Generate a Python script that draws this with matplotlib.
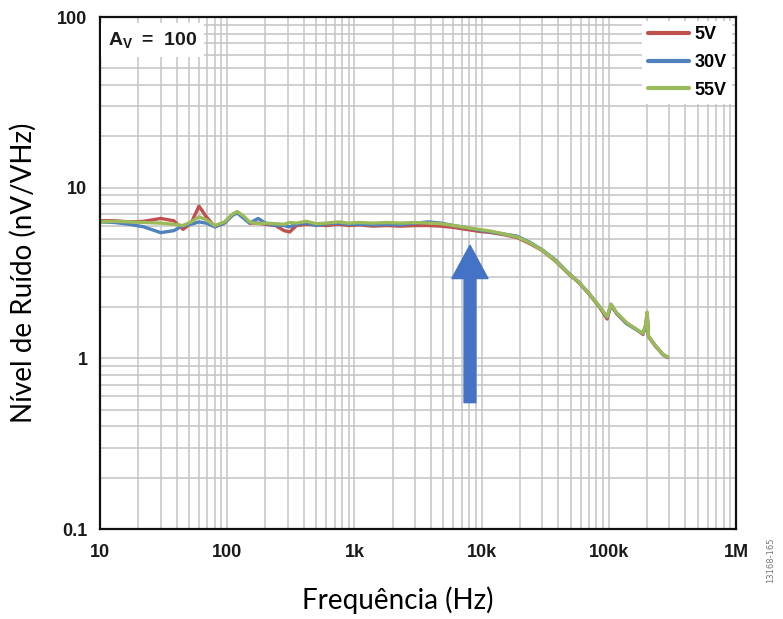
import matplotlib
matplotlib.use("Agg")
import matplotlib.pyplot as plt
from matplotlib.ticker import FixedLocator, LogLocator, NullFormatter

# Frequency points (Hz) shared by all three supply-voltage traces
freq = [10, 13, 17, 22, 30, 38, 45, 52, 60, 68, 80, 95, 110, 120, 135, 150, 175,
        200, 240, 280, 310, 350, 420, 500, 600, 750, 900, 1100, 1400, 1800, 2300,
        3000, 3800, 4800, 6000, 7500, 9500, 12000, 15000, 19000, 24000, 30000,
        38000, 47000, 58000, 70000, 85000, 97000, 104000, 115000, 138000, 160000,
        186000, 196000, 200000, 205000, 230000, 267000, 290000]

# Voltage noise density (nV/rtHz)
noise_5v = [6.4, 6.4, 6.3, 6.35, 6.6, 6.4, 5.7, 6.2, 7.8, 6.8, 5.9, 6.2, 6.9, 7.2,
            6.7, 6.2, 6.2, 6.1, 6.0, 5.6, 5.5, 6.0, 6.1, 6.05, 6.0, 6.1, 6.0, 6.05,
            5.95, 6.0, 5.95, 6.0, 6.0, 5.95, 5.85, 5.7, 5.55, 5.45, 5.3, 5.1, 4.7,
            4.28, 3.72, 3.18, 2.78, 2.38, 1.98, 1.7, 2.05, 1.83, 1.6, 1.5, 1.38,
            1.58, 1.84, 1.34, 1.19, 1.05, 1.01]
noise_30v = [6.3, 6.25, 6.1, 5.9, 5.45, 5.6, 6.0, 6.1, 6.3, 6.2, 5.9, 6.2, 6.9, 7.1,
             6.6, 6.2, 6.6, 6.2, 6.0, 6.0, 5.9, 6.1, 6.2, 6.0, 6.15, 6.2, 6.1, 6.1,
             6.05, 6.1, 6.05, 6.2, 6.3, 6.2, 6.0, 5.85, 5.65, 5.5, 5.35, 5.2, 4.78,
             4.32, 3.78, 3.22, 2.8, 2.4, 2.0, 1.74, 2.07, 1.84, 1.6, 1.49, 1.4,
             1.58, 1.85, 1.35, 1.2, 1.05, 1.02]
noise_55v = [6.3, 6.35, 6.3, 6.25, 6.2, 6.1, 6.0, 6.3, 6.75, 6.5, 6.0, 6.3, 7.0, 7.25,
             6.8, 6.3, 6.15, 6.2, 6.15, 6.1, 6.25, 6.2, 6.35, 6.15, 6.2, 6.3, 6.2,
             6.25, 6.2, 6.25, 6.2, 6.25, 6.2, 6.15, 6.0, 5.85, 5.7, 5.55, 5.35, 5.15,
             4.75, 4.3, 3.75, 3.2, 2.8, 2.4, 2.0, 1.75, 2.08, 1.85, 1.62, 1.5, 1.4,
             1.6, 1.87, 1.35, 1.2, 1.05, 1.02]

series_labels = ["5V", "30V", "55V"]
x_ticks = [10, 100, 1e3, 1e4, 1e5, 1e6]
x_tick_labels = ["10", "100", "1k", "10k", "100k", "1M"]
y_ticks = [0.1, 1, 10, 100]
y_tick_labels = ["0.1", "1", "10", "100"]

colors = ["#C0504D", "#4F81BD", "#9BBB59"]

plt.rcParams["mathtext.fontset"] = "custom"
plt.rcParams["mathtext.bf"] = "Liberation Sans:bold"
plt.rcParams["mathtext.rm"] = "Liberation Sans:bold"

fig = plt.figure(figsize=(7.83, 6.19), dpi=100)
ax = fig.add_axes([100 / 783, 1 - 529 / 619, 636 / 783, 512 / 619])

for vals, c, lab in zip([noise_5v, noise_30v, noise_55v], colors, series_labels):
    ax.plot(freq, vals, color=c, lw=2.4, label=lab, solid_capstyle="round",
            solid_joinstyle="round")

ax.set_xscale("log")
ax.set_yscale("log")
ax.set_xlim(10, 1e6)
ax.set_ylim(0.1, 100)

ax.xaxis.set_major_locator(FixedLocator(x_ticks))
ax.set_xticklabels(x_tick_labels)
ax.xaxis.set_minor_locator(LogLocator(base=10, subs=range(2, 10)))
ax.xaxis.set_minor_formatter(NullFormatter())
ax.yaxis.set_major_locator(FixedLocator(y_ticks))
ax.set_yticklabels(y_tick_labels)
ax.yaxis.set_minor_locator(LogLocator(base=10, subs=range(2, 10)))
ax.yaxis.set_minor_formatter(NullFormatter())

ax.grid(True, which="both", color="#c4c4c4", lw=1.1)
ax.set_axisbelow(True)
ax.tick_params(which="both", length=0)
ax.tick_params(axis="x", pad=11)
ax.tick_params(axis="y", pad=9)
for lbl in ax.get_xticklabels() + ax.get_yticklabels():
    lbl.set_fontfamily("Liberation Sans")
    lbl.set_fontweight("bold")
    lbl.set_fontsize(13)
    lbl.set_color("#1a1a1a")

for s in ax.spines.values():
    s.set_color("#111111")
    s.set_linewidth(1.6)

ax.set_xlabel("Frequência (Hz)", fontfamily="Lato", fontsize=20)
ax.xaxis.set_label_coords(0.4686, -0.112)
ax.set_ylabel("Nível de Ruído (nV/VHz)", fontfamily="Lato", fontsize=20, labelpad=15)

leg = ax.legend(loc="upper right", frameon=True, fancybox=False, edgecolor="none",
                facecolor="white", framealpha=1, handlelength=2.3, handletextpad=0.3,
                labelspacing=0.6, borderaxespad=0.2, borderpad=0.3,
                prop={"family": "Liberation Sans", "weight": "bold", "size": 13})
for h in leg.get_lines():
    h.set_linewidth(3)

ax.text(0.012, 0.975, r"$\mathbf{A_V\ =\ 100}$", transform=ax.transAxes,
        fontsize=14, va="top", ha="left", color="#1a1a1a",
        bbox=dict(facecolor="white", edgecolor="none", pad=5))

# Marker arrow pointing at the corner of the flat region
ax.annotate("", xy=(8100, 4.6), xytext=(8100, 0.55),
            arrowprops=dict(arrowstyle="simple,head_length=24,head_width=26,tail_width=8.5",
                            color="#4472C4", shrinkA=0, shrinkB=0, mutation_scale=1))

fig.text(771 / 783, 1 - 560 / 619, "13168-165", rotation=90, fontsize=6,
         color="#777777", ha="center", va="center")

fig.savefig("out.png", dpi=100)
